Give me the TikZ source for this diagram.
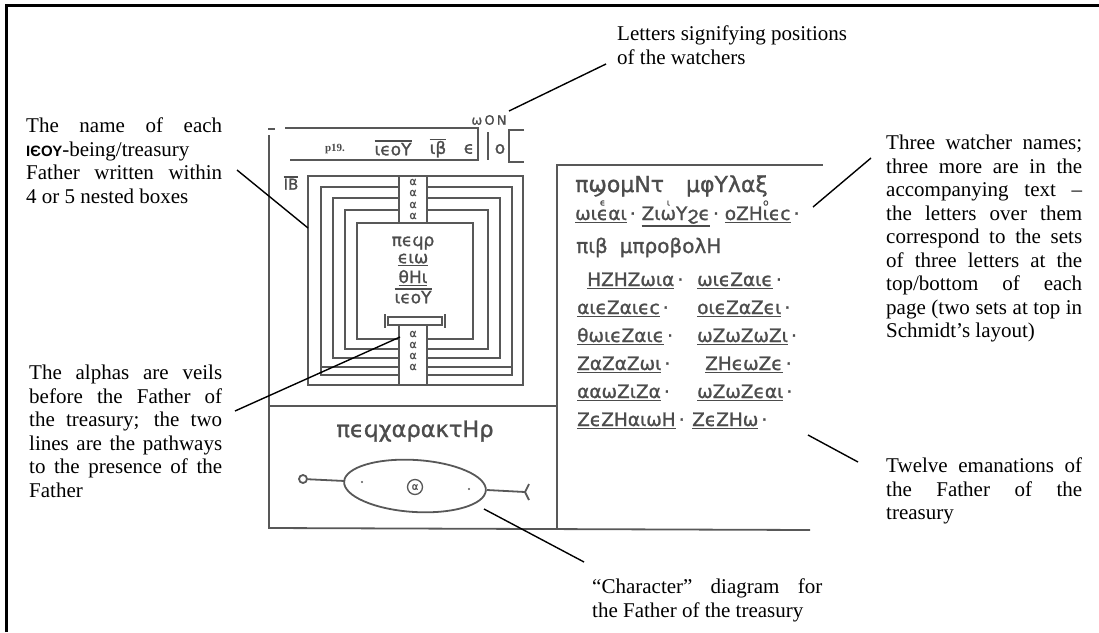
\documentclass[tikz,border=0pt]{standalone}
\usepackage{fontspec}
\setmainfont{Liberation Serif}
\newfontface\cop[FakeBold=1.2]{DejaVu Sans}
\newfontfamily\grsans{Liberation Sans}
\definecolor{mstext}{HTML}{4C4C4C}
\definecolor{msline}{HTML}{585858}
\newcommand\myover[1]{\vbox{\hrule height 1.2pt\kern1.2pt\hbox{#1}}}
\newcommand\myunder[1]{\vtop{\hbox{#1}\kern1.6pt\hrule height 1.2pt}}
\newcommand\myabove[2]{\setbox0\hbox{#1}\rlap{\hbox to\wd0{\hss\raisebox{14.5pt}{\fontsize{9}{9}\selectfont #2}\hss}}\box0}
\newcommand\jline[2]{\makebox[#1][s]{#2}}
\newcommand\cw[1]{\myunder{#1}\,·}
\begin{document}
\begin{tikzpicture}[x=1pt,y=-1pt,
  ann/.style={font=\fontsize{21}{23.5}\selectfont, inner sep=0pt, align=left, anchor=north west},
  msl/.style={draw=msline, line width=1.8pt},
  copt/.style={font=\cop\fontsize{18.5}{18.5}\selectfont, text=mstext, inner sep=0pt},
  coptA/.style={font=\cop\fontsize{11}{11}\selectfont, text=mstext, inner sep=0pt},
  coptB/.style={font=\cop\fontsize{17}{17}\selectfont, text=mstext, inner sep=0pt},
  leader/.style={draw=black, line width=1.4pt},
]
\useasboundingbox (0,0) rectangle (1099,632);
% outer frame
\draw[line width=3pt] (6,632) -- (6,5) -- (1099,5);

% ---------------- manuscript: left panel ----------------
\draw[msl] (268,129) -- (275,129);
\draw[msl] (285,128) -- (478,128) -- (478,160) -- (290,160);
\draw[msl] (488,132) -- (488,160);
\draw[msl] (524,130) -- (509,130) -- (509,162) -- (524,162);
\draw[msl] (269,135) -- (269,528) -- (810,530);
\draw[msl] (557,529) -- (557,165) -- (823,165);
\draw[msl] (269,406) -- (557,406);

% top strip text
\node[font=\bfseries\fontsize{11}{11}\selectfont, text=mstext, inner sep=0pt] (p19) at (335,149) {p19.};
\node[coptB] (ieou1) at (393,148) {\myover{ιϵοΥ}};
\node[coptB] (ib1) at (438,148) {\myover{ιβ}};
\node[coptB] (eps) at (469,149) {ϵ};
\node[coptB] (omi) at (500,149) {ο};
\node[font=\cop\fontsize{13}{13}\selectfont, text=mstext, inner sep=0pt] (won) at (489,120) {ω\,Ο\,Ν};
\node[font=\cop\fontsize{15}{15}\selectfont, text=mstext, inner sep=0pt] (ib2) at (291,183) {\myover{ΙΒ}};

% nested boxes
\draw[msl] (308,176) rectangle (523,385);
\draw[msl] (399,187) -| (321,375) -- (399,375);
\draw[msl] (427,187) -| (512,375) -- (427,375);
\draw[msl] (321,367) -- (399,367) (427,367) -- (512,367);
\draw[msl] (399,198) -| (333,358) -- (399,358);
\draw[msl] (427,198) -| (500,358) -- (427,358);
\draw[msl] (399,210) -| (345,349) -- (399,349);
\draw[msl] (427,210) -| (488,349) -- (427,349);
\draw[msl] (399,339) -| (357,223) -- (473,223) |- (427,339);
% alpha column
\draw[msl] (399,176) -- (399,223) (427,176) -- (427,223);
\draw[msl] (399,325) -- (399,385) (427,325) -- (427,385);
\node[coptA] (al1) at (413,182) {α};
\node[coptA] (al2) at (413,193) {α};
\node[coptA] (al3) at (413,205) {α};
\node[coptA] (al4) at (413,216) {α};
\node[coptA] (al5) at (413,334) {α};
\node[coptA] (al6) at (413,345) {α};
\node[coptA] (al7) at (413,356) {α};
\node[coptA] (al8) at (413,367) {α};
% bar
\draw[msl] (388,317) rectangle (442,325);
\draw[msl] (385,314) -- (385,328) (445,314) -- (445,328);
% inner name
\node[coptB] (n1) at (413,243) {πϵϥρ};
\node[coptB] (n2) at (413,260) {\myunder{ϵιω}};
\node[coptB] (n3) at (413,278) {\myunder{θΗι}};
\node[coptB] (n4) at (413,296) {\myover{ιϵοΥ}};

% character
\node[font=\cop\fontsize{22.5}{22.5}\selectfont, text=mstext, inner sep=0pt, anchor=base] (char) at (415,437) {πϵϥχαρακτΗρ};
\coordinate (ec) at (415,486);
\draw[msl, rotate around={-3.6:(ec)}] (ec) ellipse [x radius=71, y radius=26];
\node[circle, draw=msline, line width=1.8pt, minimum size=8pt, inner sep=0pt] (lc) at (303,479) {};
\coordinate (el) at (345,481);
\coordinate (er) at (487,490);
\coordinate (fk) at (525,492);
\coordinate (fk1) at (529,484);
\coordinate (fk2) at (529,500);
\draw[msl] (lc) -- (el);
\draw[msl] (er) -- (fk);
\draw[msl] (fk1) -- (fk) -- (fk2);
\node[circle, draw=msline, line width=1.3pt, minimum size=15pt, inner sep=0pt, font=\cop\fontsize{10}{10}\selectfont, text=mstext] (cc) at (415,487) {α};
\fill[msline] (362,482) circle (1.2) (469,489) circle (1.2);

% ---------------- right panel ----------------
\node[copt, font=\cop\fontsize{22}{22}\selectfont, anchor=base west] (r1) at (575,192) {πϣομΝτ\hspace{22pt}μφΥλαξ};
\node[copt, anchor=base west] (r2) at (575,220) {\myunder{ωι\myabove{ϵ}{ϵ}αι}\,· \myunder{Ζι\myabove{ω}{ι}Υϩϵ}\,· \myunder{οΖΗ\myabove{ι}{ο}ϵϲ}\,·};
\node[copt, font=\cop\fontsize{20}{20}\selectfont, anchor=base west] (r3) at (576,253) {πιβ\hspace{12pt}μπροβολΗ};
\node[copt, anchor=base west] (r4a) at (587,286) {\cw{ΗΖΗΖωια}};
\node[copt, anchor=base west] (r4b) at (697,286) {\cw{ωιϵΖαιϵ}};
\node[copt, anchor=base west] (r5a) at (577,314) {\cw{αιϵΖαιϵϲ}};
\node[copt, anchor=base west] (r5b) at (697,314) {\cw{οιϵΖαΖϵι}};
\node[copt, anchor=base west] (r6a) at (577,342) {\cw{θωιϵΖαιϵ}};
\node[copt, anchor=base west] (r6b) at (697,342) {\cw{ωΖωΖωΖι}};
\node[copt, anchor=base west] (r7a) at (577,370) {\cw{ΖαΖαΖωι}};
\node[copt, anchor=base west] (r7b) at (705,370) {\cw{ΖΗϵωΖϵ}};
\node[copt, anchor=base west] (r8a) at (577,398) {\cw{ααωΖιΖα}};
\node[copt, anchor=base west] (r8b) at (697,398) {\cw{ωΖωΖϵαι}};
\node[copt, anchor=base west] (r9a) at (577,426) {\cw{ΖϵΖΗαιωΗ}};
\node[copt, anchor=base west] (r9b) at (692,426) {\cw{ΖϵΖΗω}};

% ---------------- annotations ----------------
\node[ann] (a1) at (617,26) {Letters signifying positions\\of the watchers};
\node[ann] (a2) at (26,118) {\jline{196pt}{The name of each}\\{\grsans\bfseries\fontsize{15}{15}\selectfont ΙЄΟΥ}-being/treasury\\\jline{196pt}{Father written within}\\4 or 5 nested boxes};
\node[ann] (a3) at (29,365) {\jline{193pt}{The alphas are veils}\\\jline{193pt}{before the Father of}\\\jline{193pt}{the treasury; the two}\\\jline{193pt}{lines are the pathways}\\\jline{193pt}{to the presence of the}\\Father};
\node[ann] (a4) at (886,135) {\jline{196pt}{Three watcher names;}\\\jline{196pt}{three more are in the}\\\jline{196pt}{accompanying text –}\\\jline{196pt}{the letters over them}\\\jline{196pt}{correspond to the sets}\\\jline{196pt}{of three letters at the}\\\jline{196pt}{top/bottom of each}\\\jline{196pt}{page (two sets at top in}\\Schmidt’s layout)};
\node[ann] (a5) at (886,458) {\jline{196pt}{Twelve emanations of}\\\jline{196pt}{the Father of the}\\treasury};
\node[ann] (a6) at (592,579) {\jline{230pt}{“Character” diagram for}\\the Father of the treasury};

% leaders
\coordinate (l1a) at (606,64);  \coordinate (l1b) at (509,111);
\coordinate (l2a) at (237,170); \coordinate (l2b) at (308,228);
\coordinate (l3a) at (235,411); \coordinate (l3b) at (400,337);
\coordinate (l4a) at (871,158); \coordinate (l4b) at (813,207);
\coordinate (l5a) at (808,435); \coordinate (l5b) at (858,462);
\coordinate (l6a) at (484,509); \coordinate (l6b) at (584,562);
\draw[leader] (l1a) -- (l1b);
\draw[leader] (l2a) -- (l2b);
\draw[leader] (l3a) -- (l3b);
\draw[leader] (l4a) -- (l4b);
\draw[leader] (l5a) -- (l5b);
\draw[leader] (l6a) -- (l6b);
\end{tikzpicture}
\end{document}
